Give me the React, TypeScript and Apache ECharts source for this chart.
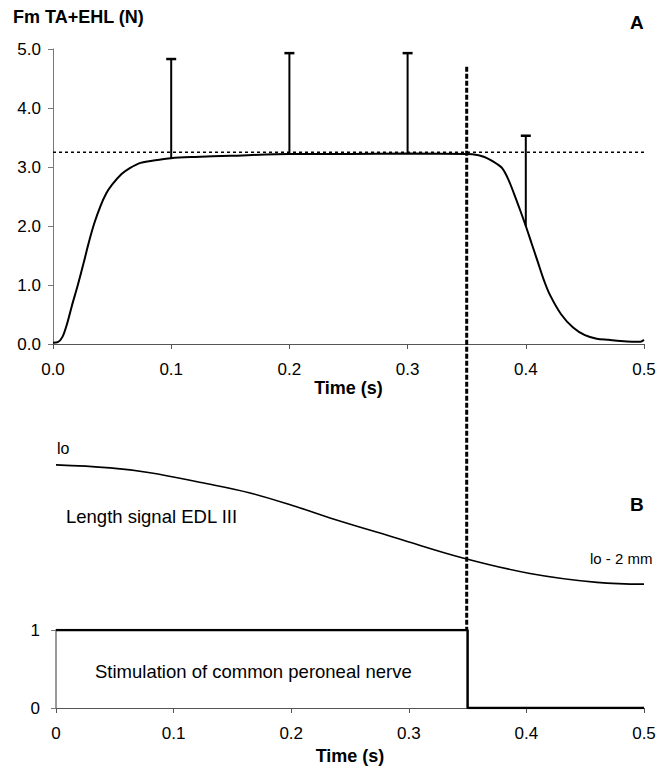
import React, { useEffect, useRef } from "react";
import * as echarts from "echarts";

// Panel A: muscle force (N) vs time (s)
const forceT = [0, 0.004, 0.008, 0.012, 0.016, 0.021, 0.026, 0.03, 0.035, 0.04, 0.045, 0.05, 0.058, 0.065, 0.074, 0.085, 0.1, 0.12, 0.15, 0.2, 0.25, 0.3, 0.35, 0.36, 0.365, 0.37, 0.375, 0.38, 0.385, 0.39, 0.395, 0.4, 0.405, 0.41, 0.415, 0.42, 0.43, 0.44, 0.45, 0.46, 0.47, 0.48, 0.49, 0.497, 0.5];
const forceV = [0.02, 0.03, 0.12, 0.35, 0.65, 1.0, 1.38, 1.7, 2.05, 2.33, 2.55, 2.7, 2.88, 2.98, 3.07, 3.11, 3.15, 3.17, 3.19, 3.22, 3.22, 3.23, 3.22, 3.2, 3.17, 3.12, 3.06, 2.98, 2.8, 2.55, 2.28, 2.0, 1.7, 1.4, 1.1, 0.85, 0.5, 0.28, 0.15, 0.09, 0.07, 0.05, 0.04, 0.04, 0.07];

// Error bars (upper half only)
const errT = [0.1, 0.2, 0.3, 0.4];
const errLow = [3.15, 3.22, 3.22, 2.0];
const errHigh = [4.83, 4.93, 4.93, 3.53];

// Reference level (dotted)
const refLevel = 3.25;
const stimOff = 0.35;

// Panel B: length signal (mm relative to lo)
const lenT = [0, 0.046, 0.08, 0.122, 0.165, 0.207, 0.233, 0.29, 0.346, 0.403, 0.46, 0.5];
const lenV = [0, -0.05, -0.13, -0.29, -0.47, -0.72, -0.89, -1.23, -1.56, -1.82, -1.97, -2.0];

// Stimulation signal
const stimT = [0, 0.35, 0.35, 0.5];
const stimV = [1, 1, 0, 0];

const FONT = "'Liberation Sans', Arial, sans-serif";

export default function App() {
  const ref = useRef<HTMLDivElement>(null);
  useEffect(() => {
    if (!ref.current) return;
    const chart = echarts.init(ref.current, undefined, { renderer: "svg" });
    const axisGray = "#777";
    const option: any = {
      animation: false,
      backgroundColor: "#fff",
      textStyle: { fontFamily: FONT },
      grid: [
        { left: 53, right: 15, top: 49, height: 295 },
        { left: 56, right: 15, top: 453, height: 155 },
        { left: 56, right: 15, top: 630, height: 79 },
      ],
      xAxis: [
        {
          gridIndex: 0, type: "value", min: 0, max: 0.5, interval: 0.1,
          name: "Time (s)", nameLocation: "middle", nameGap: 25,
          nameTextStyle: { fontFamily: FONT, fontSize: 18, fontWeight: "bold", color: "#000" },
          axisLine: { show: true, lineStyle: { color: "#555", width: 1 } },
          axisTick: { show: true, length: 5, lineStyle: { color: "#555" } },
          axisLabel: { margin: 17, fontSize: 17, color: "#000", fontFamily: FONT, formatter: (v: number) => v.toFixed(1) },
          splitLine: { show: false },
        },
        { gridIndex: 1, type: "value", min: 0, max: 0.5, show: false },
        {
          gridIndex: 2, type: "value", min: 0, max: 0.5, interval: 0.1,
          name: "Time (s)", nameLocation: "middle", nameGap: 39,
          nameTextStyle: { fontFamily: FONT, fontSize: 18, fontWeight: "bold", color: "#000" },
          axisLine: { show: true, lineStyle: { color: "#555", width: 1 } },
          axisTick: { show: true, length: 5, lineStyle: { color: "#555" } },
          axisLabel: { margin: 17, fontSize: 17, color: "#000", fontFamily: FONT, formatter: (v: number) => (v === 0 ? "0" : v.toFixed(1)) },
          splitLine: { show: false },
        },
      ],
      yAxis: [
        {
          gridIndex: 0, type: "value", min: 0, max: 5, interval: 1,
          axisLine: { show: true, lineStyle: { color: axisGray, width: 1 } },
          axisTick: { show: true, length: 5, lineStyle: { color: axisGray } },
          axisLabel: { margin: 12, fontSize: 17, color: "#000", fontFamily: FONT, formatter: (v: number) => v.toFixed(1) },
          splitLine: { show: false },
        },
        { gridIndex: 1, type: "value", min: -2.4, max: 0.2, show: false },
        {
          gridIndex: 2, type: "value", min: 0, max: 1, interval: 1,
          axisLine: { show: true, lineStyle: { color: "#999", width: 2 } },
          axisTick: { show: true, length: 5, lineStyle: { color: "#777" } },
          axisLabel: { margin: 16, fontSize: 17, color: "#000", fontFamily: FONT },
          splitLine: { show: false },
        },
      ],
      series: [
        {
          type: "line", xAxisIndex: 0, yAxisIndex: 0, showSymbol: false, symbol: "none",
          data: [[0, refLevel], [0.5, refLevel]],
          lineStyle: { color: "#000", width: 1.5, type: [3, 3] },
          z: 1,
        },
        {
          type: "line", xAxisIndex: 0, yAxisIndex: 0, symbol: "none", smooth: 0.3,
          data: forceT.map((t, i) => [t, forceV[i]]),
          lineStyle: { color: "#000", width: 2 },
          z: 3,
        },
        {
          type: "custom", xAxisIndex: 0, yAxisIndex: 0,
          data: errT.map((t, i) => [t, errLow[i], errHigh[i]]),
          renderItem: (params: any, api: any) => {
            const x = api.value(0);
            const p1 = api.coord([x, api.value(1)]);
            const p2 = api.coord([x, api.value(2)]);
            return {
              type: "group",
              children: [
                { type: "line", shape: { x1: p1[0], y1: p1[1], x2: p2[0], y2: p2[1] }, style: { stroke: "#000", lineWidth: 2 } },
                { type: "line", shape: { x1: p2[0] - 5, y1: p2[1], x2: p2[0] + 5, y2: p2[1] }, style: { stroke: "#000", lineWidth: 2.5 } },
              ],
            };
          },
          z: 4,
        },
        {
          type: "line", xAxisIndex: 1, yAxisIndex: 1, symbol: "none", smooth: 0.4,
          data: lenT.map((t, i) => [t, lenV[i]]),
          lineStyle: { color: "#000", width: 1.6 },
        },
        {
          type: "line", xAxisIndex: 2, yAxisIndex: 2, symbol: "none",
          data: stimT.map((t, i) => [t, stimV[i]]),
          lineStyle: { color: "#000", width: 2.5 },
          z: 3,
        },
      ],
      graphic: [
        { type: "text", left: 13, top: 8, style: { text: "Fm TA+EHL (N)", font: `bold 18px ${FONT}`, fill: "#000" } },
        { type: "text", left: 630, top: 13, style: { text: "A", font: `bold 19px ${FONT}`, fill: "#000" } },
        { type: "text", left: 630, top: 495, style: { text: "B", font: `bold 19px ${FONT}`, fill: "#000" } },
        { type: "text", left: 57, top: 440, style: { text: "lo", font: `16px ${FONT}`, fill: "#000" } },
        { type: "text", left: 66, top: 507, style: { text: "Length signal EDL III", font: `18.5px ${FONT}`, fill: "#000" } },
        { type: "text", left: 590, top: 551, style: { text: "lo - 2 mm", font: `15px ${FONT}`, fill: "#000" } },
        { type: "text", left: 95, top: 662, style: { text: "Stimulation of common peroneal nerve", font: `18.5px ${FONT}`, fill: "#000" } },
      ],
    };
    chart.setOption(option);
    const pTop = chart.convertToPixel({ xAxisIndex: 0, yAxisIndex: 0 } as any, [stimOff, 4.7]) as number[];
    const pBot = chart.convertToPixel({ xAxisIndex: 2, yAxisIndex: 2 } as any, [stimOff, 1]) as number[];
    if (pTop && pBot) {
      const g = option.graphic.concat([
        {
          type: "line", z: 10,
          shape: { x1: pTop[0], y1: pTop[1], x2: pTop[0], y2: pBot[1] },
          style: { stroke: "#000", lineWidth: 3, lineDash: [5, 2] },
        },
      ]);
      chart.setOption({ graphic: g });
    }
    return () => chart.dispose();
  }, []);
  return <div ref={ref} style={{ position: "fixed", left: 0, top: 0, width: 659, height: 766 }} />;
}
